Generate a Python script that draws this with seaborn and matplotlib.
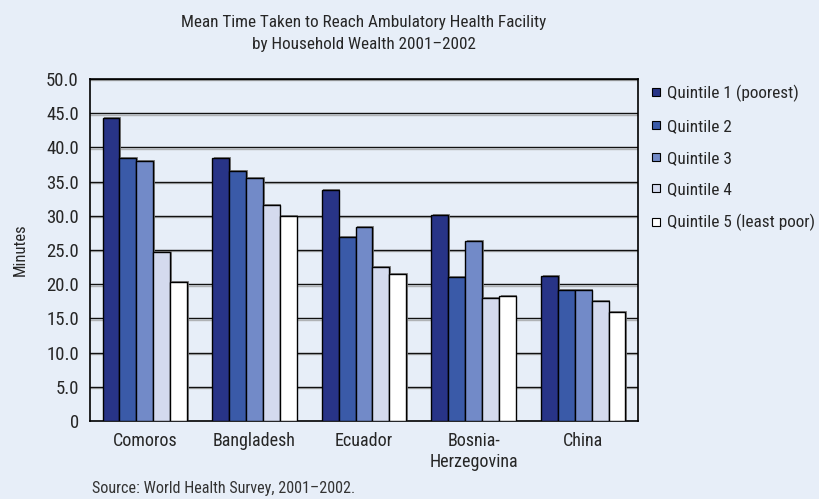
import pandas as pd
import matplotlib.pyplot as plt
import seaborn as sns
from matplotlib.lines import Line2D
import matplotlib.patheffects as pe

# ---------------------------------------------------------
# Data
# ---------------------------------------------------------
countries = ["Comoros", "Bangladesh", "Ecuador", "Bosnia-\nHerzegovina", "China"]
quintiles = ["Quintile 1 (poorest)", "Quintile 2", "Quintile 3",
             "Quintile 4", "Quintile 5 (least poor)"]
q1 = [44.3, 38.4, 33.7, 30.1, 21.2]
q2 = [38.4, 36.6, 26.9, 21.1, 19.1]
q3 = [38.0, 35.5, 28.3, 26.3, 19.1]
q4 = [24.7, 31.6, 22.5, 18.0, 17.6]
q5 = [20.3, 29.9, 21.5, 18.3, 15.9]
yticks = [0, 5, 10, 15, 20, 25, 30, 35, 40, 45, 50]

colors = ["#283487", "#3a5aa8", "#728ac8", "#d4daee", "#ffffff"]
bg = "#e7eef8"

rows = []
for q, vals in zip(quintiles, [q1, q2, q3, q4, q5]):
    for c, v in zip(countries, vals):
        rows.append({"country": c, "quintile": q, "minutes": v})
df = pd.DataFrame(rows)

# ---------------------------------------------------------
# Plot
# ---------------------------------------------------------
sns.set_style("white")
plt.rcParams["font.family"] = ["DejaVu Sans Condensed", "Liberation Sans Narrow",
                               "Roboto Condensed", "Roboto", "DejaVu Sans"]
plt.rcParams["font.stretch"] = "condensed"

fig = plt.figure(figsize=(8.19, 4.99), dpi=100, facecolor=bg)
ax = fig.add_axes([90 / 819, 1 - 421 / 499, 548 / 819, 342 / 499])
ax.set_facecolor(bg)

sns.barplot(data=df, x="country", y="minutes", hue="quintile",
            hue_order=quintiles, order=countries, palette=colors,
            width=0.77, gap=0, edgecolor="black", linewidth=1.0,
            saturation=1, legend=False, ax=ax, zorder=3)

for p in ax.patches:
    p.set_path_effects([pe.SimplePatchShadow(offset=(1.2, 0.8),
                                             shadow_rgbFace="#7a7a7a", alpha=0.9),
                        pe.Normal()])

ax.set_ylim(0, 50)
ax.set_xlim(-0.5, 4.5)
ax.set_yticks(yticks)
ax.set_yticklabels(["0"] + [f"{t:.1f}" for t in yticks[1:]], fontsize=13.5)
ax.tick_params(axis="x", labelsize=13, length=0, pad=8)
ax.tick_params(axis="y", length=0, pad=8)
for t in yticks[1:]:
    ax.axhline(t, color="#111111", linewidth=1.0, zorder=1,
               path_effects=[pe.SimpleLineShadow(offset=(0, -1), shadow_color="#999999", alpha=0.7),
                             pe.Normal()])
for s in ax.spines.values():
    s.set_visible(True)
    s.set_color("black")
    s.set_linewidth(1.2)

ax.set_xlabel("")
ax.set_ylabel("")
fig.text(20 / 819, 1 - 250 / 499, "Minutes", rotation=90,
         ha="center", va="center", fontsize=12)

fig.text(364 / 819, 1 - 22 / 499, "Mean Time Taken to Reach Ambulatory Health Facility",
         ha="center", va="center", fontsize=12.3)
fig.text(364 / 819, 1 - 45 / 499, "by Household Wealth 2001\u20132002",
         ha="center", va="center", fontsize=12.3)
fig.text(92 / 819, 1 - 488 / 499, "Source: World Health Survey, 2001\u20132002.",
         ha="left", va="center", fontsize=11.6, color="#333333")

handles = [Line2D([0], [0], marker="s", linestyle="none", markersize=6,
                  markerfacecolor=c, markeredgecolor="black", markeredgewidth=0.8)
           for c in colors]
fig.legend(handles, quintiles, loc="upper left",
           bbox_to_anchor=(642 / 819, 1 - 78 / 499), frameon=False,
           fontsize=12.4, handletextpad=0.23, labelspacing=0.97,
           handlelength=0.8, borderaxespad=0, borderpad=0.4)

plt.savefig("out.png", dpi=100, facecolor=bg)
